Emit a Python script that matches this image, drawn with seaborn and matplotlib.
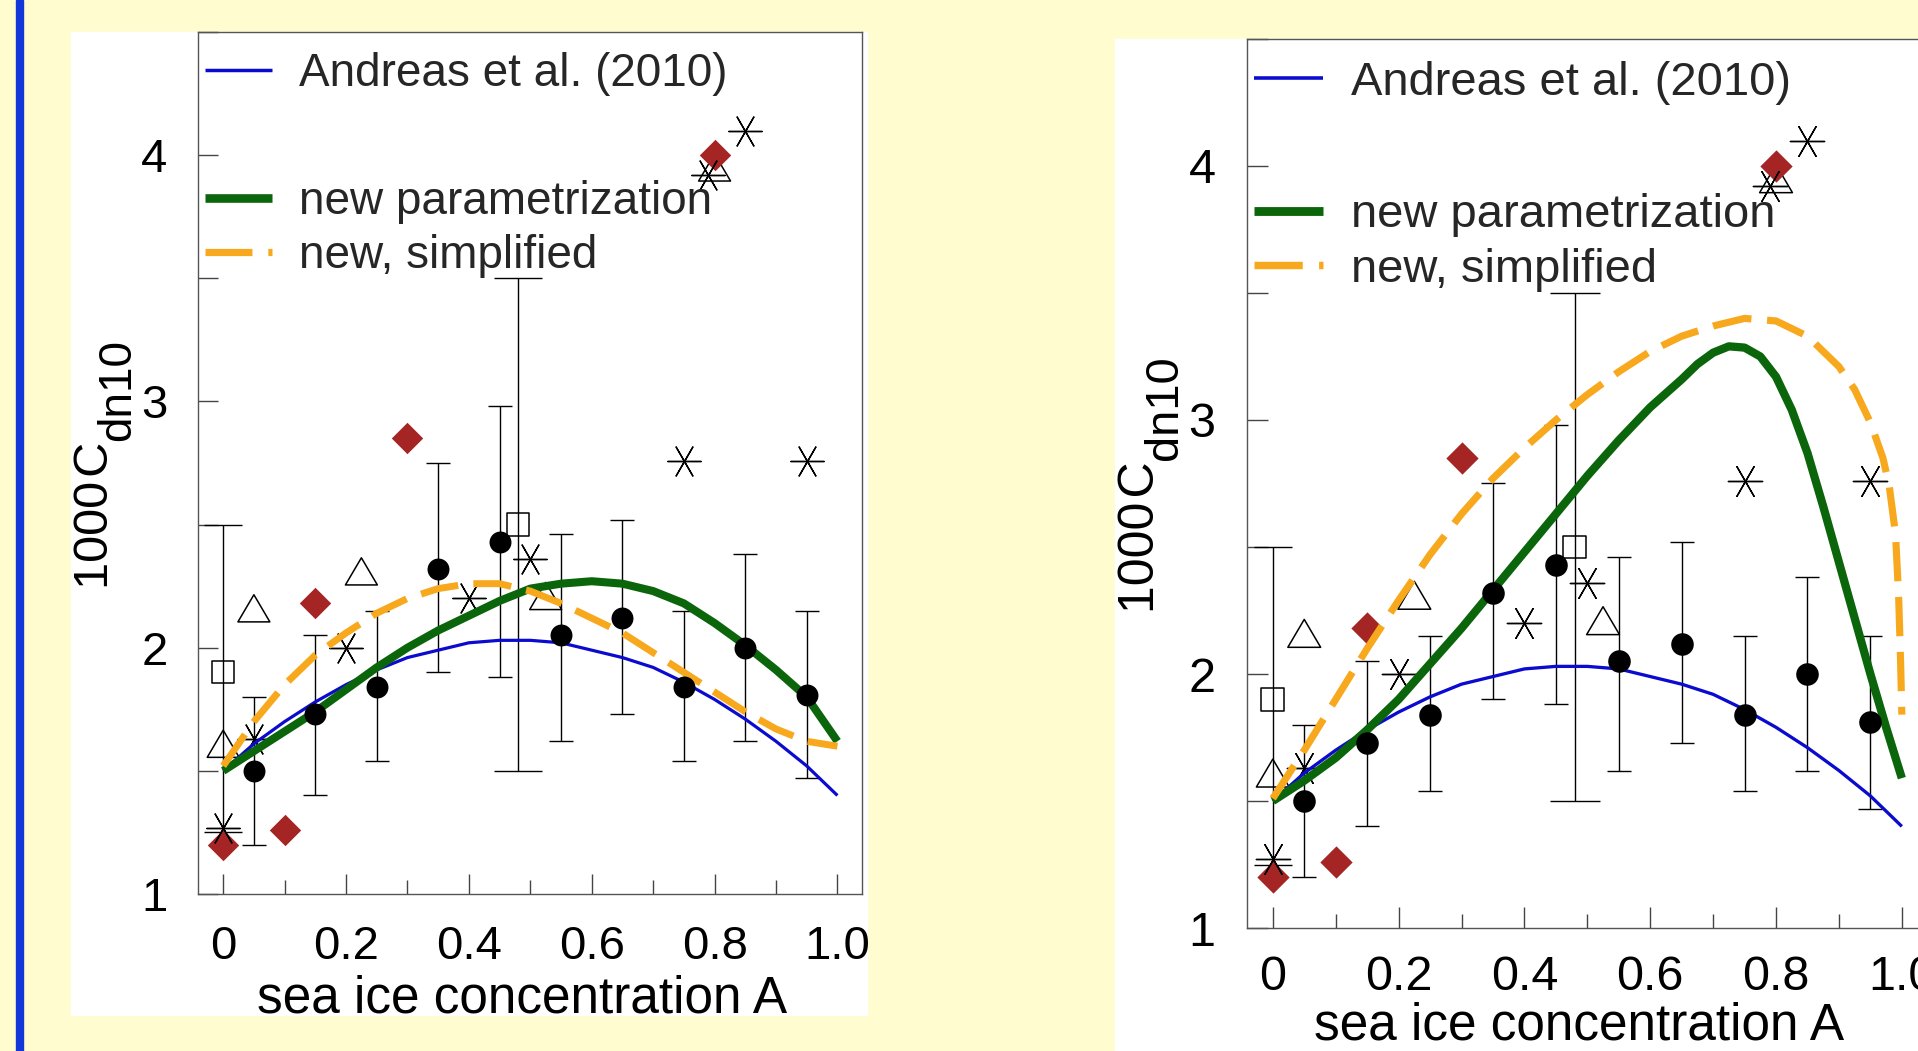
import matplotlib
matplotlib.use("Agg")
import matplotlib.pyplot as plt
import seaborn as sns
from matplotlib.lines import Line2D
from matplotlib.patches import Rectangle
from matplotlib.path import Path
from matplotlib.ticker import MultipleLocator

# ---- data ----
# bin means with error bars (black dots)
bin_x = [0.05, 0.15, 0.25, 0.35, 0.45, 0.55, 0.65, 0.75, 0.85, 0.95]
bin_y = [1.50, 1.73, 1.84, 2.32, 2.43, 2.05, 2.12, 1.84, 2.00, 1.81]
bin_lo = [1.20, 1.40, 1.54, 1.90, 1.88, 1.62, 1.73, 1.54, 1.62, 1.47]
bin_hi = [1.80, 2.05, 2.15, 2.75, 2.98, 2.46, 2.52, 2.15, 2.38, 2.15]

# open squares with their own (wide) error bars
sq_x = [0.0, 0.48]
sq_y = [1.90, 2.50]
sq_lo = [1.25, 1.50]
sq_hi = [2.50, 3.50]

# open triangles, red diamonds, asterisks
tri_x = [0.0, 0.05, 0.225, 0.525, 0.80]
tri_y = [1.61, 2.16, 2.31, 2.21, 3.95]
dia_x = [0.0, 0.10, 0.15, 0.30, 0.80]
dia_y = [1.20, 1.26, 2.18, 2.85, 4.00]
ast_x = [0.0, 0.05, 0.20, 0.40, 0.50, 0.75, 0.79, 0.85, 0.95]
ast_y = [1.27, 1.63, 2.00, 2.20, 2.36, 2.76, 3.92, 4.10, 2.76]

# curves, sampled every 0.05
curve_x = [0.0, 0.05, 0.1, 0.15, 0.2, 0.25, 0.3, 0.35, 0.4, 0.45, 0.5,
           0.55, 0.6, 0.65, 0.7, 0.75, 0.8, 0.85, 0.9, 0.95, 1.0]
andreas_y = [1.50, 1.61, 1.70, 1.78, 1.85, 1.91, 1.96, 1.99, 2.02, 2.03, 2.03,
             2.02, 1.99, 1.96, 1.92, 1.86, 1.79, 1.71, 1.62, 1.52, 1.40]
green_left_y = [1.50, 1.58, 1.66, 1.74, 1.83, 1.92, 2.00, 2.07, 2.13, 2.19, 2.24,
                2.26, 2.27, 2.26, 2.23, 2.18, 2.10, 2.01, 1.91, 1.80, 1.62]
orange_left_y = [1.52, 1.70, 1.85, 1.97, 2.06, 2.14, 2.20, 2.24, 2.26, 2.26, 2.23,
                 2.18, 2.12, 2.06, 1.98, 1.90, 1.82, 1.74, 1.67, 1.62, 1.60]

green_right_x = [0.0, 0.05, 0.1, 0.15, 0.2, 0.25, 0.3, 0.35, 0.4, 0.45, 0.5,
                 0.55, 0.6, 0.65, 0.675, 0.7, 0.725, 0.75, 0.775, 0.8, 0.825,
                 0.85, 0.875, 0.9, 0.925, 0.95, 0.975, 1.0]
green_right_y = [1.50, 1.58, 1.67, 1.78, 1.90, 2.04, 2.18, 2.33, 2.48, 2.63, 2.78,
                 2.92, 3.05, 3.16, 3.22, 3.265, 3.29, 3.285, 3.25, 3.17, 3.04,
                 2.87, 2.66, 2.44, 2.22, 2.00, 1.79, 1.59]
orange_right_x = [0.0, 0.05, 0.1, 0.15, 0.2, 0.25, 0.3, 0.35, 0.4, 0.45, 0.5,
                  0.55, 0.6, 0.65, 0.7, 0.75, 0.8, 0.85, 0.9, 0.925, 0.95,
                  0.97, 0.98, 0.99, 0.995, 0.998, 1.0]
orange_right_y = [1.51, 1.70, 1.90, 2.10, 2.29, 2.47, 2.63, 2.77, 2.89, 3.00, 3.10,
                  3.19, 3.27, 3.33, 3.37, 3.40, 3.39, 3.33, 3.21, 3.12, 2.99,
                  2.85, 2.74, 2.55, 2.30, 2.05, 1.84]

xtick_vals = [0, 0.2, 0.4, 0.6, 0.8, 1.0]
xtick_labels = ["0", "0.2", "0.4", "0.6", "0.8", "1.0"]
ytick_vals = [1, 2, 3, 4]
ytick_labels = ["1", "2", "3", "4"]

legend_top = ["Andreas et al. (2010)"]
legend_bottom = ["new parametrization", "new, simplified"]

BG = "#fffdd0"
BAR = "#1136d9"
BLUE = "#0b0bcf"
GREEN = "#0b650b"
ORANGE = "#f8a81c"
RED = "#a52424"

sns.set_style("white")
plt.rcParams["font.family"] = ["Liberation Sans", "DejaVu Sans"]
plt.rcParams["lines.solid_capstyle"] = "butt"
plt.rcParams["lines.dash_capstyle"] = "butt"

W, H = 1918, 1051
fig = plt.figure(figsize=(W / 100, H / 100), dpi=100, facecolor=BG)


def fx(px):
    return px / W


def fy(py):
    return 1 - py / H


# blue bar on the left and the two white panels
fig.add_artist(Rectangle((fx(16), 0), 7 / W, 1, transform=fig.transFigure,
                         color=BAR, zorder=0))
fig.add_artist(Rectangle((fx(71), fy(1015)), 796 / W, 983 / H,
                         transform=fig.transFigure, color="white", zorder=0))
fig.add_artist(Rectangle((fx(1115), 0), 1 - fx(1115), fy(39),
                         transform=fig.transFigure, color="white", zorder=0))

tri_marker = Path([(0, 0.85), (-1, -0.85), (1, -0.85), (0, 0.85)],
                  [Path.MOVETO, Path.LINETO, Path.LINETO, Path.CLOSEPOLY])


def draw_panel(ax, green_x, green_y, orange_x, orange_y, k, xlabel_y, xpad,
               xlabel_size):
    ax.set_facecolor("white")

    # error bars
    ax.errorbar(bin_x, bin_y,
                yerr=[[y - lo for y, lo in zip(bin_y, bin_lo)],
                      [hi - y for y, hi in zip(bin_y, bin_hi)]],
                fmt="none", ecolor="black", elinewidth=1.0, capsize=8.6 * k,
                capthick=1.0, zorder=2)
    for x, y, lo, hi, cap in zip(sq_x, sq_y, sq_lo, sq_hi, [13.5, 17.6]):
        ax.errorbar([x], [y], yerr=[[y - lo], [hi - y]], fmt="none",
                    ecolor="black", elinewidth=1.0, capsize=cap * k,
                    capthick=1.0, zorder=2)

    # open symbols
    sns.scatterplot(x=sq_x, y=sq_y, ax=ax, marker="s", s=(16 * k) ** 2,
                    color="black", facecolors="none", edgecolor="black",
                    linewidth=1.1, zorder=3)
    sns.scatterplot(x=tri_x, y=tri_y, ax=ax, marker=tri_marker, s=(23 * k) ** 2,
                    color="black", facecolors="none", edgecolor="black",
                    linewidth=1.1, zorder=3)
    sns.scatterplot(x=dia_x, y=dia_y, ax=ax, marker="D", s=(16 * k) ** 2,
                    color=RED, edgecolor=RED, linewidth=0, zorder=3.5)
    sns.scatterplot(x=ast_x, y=ast_y, ax=ax, marker=(6, 2, 30), s=(24 * k) ** 2,
                    color="black", linewidth=1.0, zorder=4)

    # curves
    sns.lineplot(x=curve_x, y=andreas_y, ax=ax, color=BLUE, linewidth=2.3 * k,
                 errorbar=None, zorder=5)
    sns.lineplot(x=green_x, y=green_y, ax=ax, color=GREEN, linewidth=5.8 * k,
                 errorbar=None, zorder=5)
    sns.lineplot(x=orange_x, y=orange_y, ax=ax, color=ORANGE, linewidth=5.0 * k,
                 linestyle=(0, (5.5, 2.2)), errorbar=None, zorder=5)

    # binned means on top
    sns.scatterplot(x=bin_x, y=bin_y, ax=ax, marker="o", s=(15.8 * k) ** 2,
                    color="black", edgecolor="black", linewidth=0, zorder=6)

    ax.set_xlim(-0.041, 1.040)
    ax.set_ylim(1.0, 4.5)
    ax.set_xticks(xtick_vals, xtick_labels)
    ax.set_yticks(ytick_vals, ytick_labels)
    ax.xaxis.set_minor_locator(MultipleLocator(0.1))
    ax.yaxis.set_minor_locator(MultipleLocator(0.5))
    ax.tick_params(which="both", direction="in", bottom=True, left=True,
                   top=False, right=False, color="#444444", width=1.0)
    ax.tick_params(which="major", length=14.5 * k, pad=22 * k,
                   labelsize=34 * k, labelcolor="black")
    ax.tick_params(axis="x", which="major", pad=xpad)
    ax.tick_params(axis="x", which="minor", length=10 * k)
    ax.tick_params(axis="y", which="minor", length=14.5 * k)
    for sp in ax.spines.values():
        sp.set_color("#555555")
        sp.set_linewidth(1.0)

    ax.set_xlabel("sea ice concentration A", fontsize=xlabel_size, color="black")
    ax.xaxis.set_label_coords(0.488, xlabel_y)
    ax.xaxis.label.set_va("baseline")
    ax.set_ylabel("")

    # legend: first entry apart from the other two
    h_top = [Line2D([], [], color=BLUE, lw=2.5 * k)]
    h_bot = [Line2D([], [], color=GREEN, lw=6.2 * k),
             Line2D([], [], color=ORANGE, lw=5.2 * k, ls=(0, (6.5, 2.2)))]
    common = dict(frameon=False, borderpad=0, borderaxespad=0, handlelength=1.45,
                  handletextpad=0.6, fontsize=33 * k, loc="center left")
    leg1 = ax.legend(h_top, legend_top, bbox_to_anchor=(0.011, 0.951),
                     labelspacing=0, **common)
    ax.add_artist(leg1)
    ax.legend(h_bot, legend_bottom, bbox_to_anchor=(0.011, 0.771),
              labelspacing=0.22, **common)


ax1 = fig.add_axes([fx(198), fy(894), 664 / W, 862 / H])
draw_panel(ax1, curve_x, green_left_y, curve_x, orange_left_y, 1.0,
           -0.137, 22, 37)

ax2 = fig.add_axes([fx(1247), fy(928), 680 / W, 889 / H])
draw_panel(ax2, green_right_x, green_right_y, orange_right_x, orange_right_y,
           1.028, -0.1254, 19.5, 37)

# y label: "1000 C" with a lowered subscript "dn10"
renderer = fig.canvas.get_renderer()
for ax, k in [(ax1, 1.0), (ax2, 1.028)]:
    bb = ax.get_window_extent(renderer)
    cy = (bb.y0 + bb.y1) / 2
    main = fig.text((bb.x0 - 90 * k) / W, (cy - 126 * k) / H, "1000\u200aC",
                    rotation=90, rotation_mode="anchor", ha="left",
                    va="baseline", fontsize=35 * k, color="black")
    mb = main.get_window_extent(renderer)
    fig.text((bb.x0 - 68 * k) / W, (mb.y1 + 1) / H, "dn10", rotation=90,
             rotation_mode="anchor", ha="left", va="baseline",
             fontsize=33 * k, color="black")

fig.savefig("out.png", dpi=100, facecolor=BG)
